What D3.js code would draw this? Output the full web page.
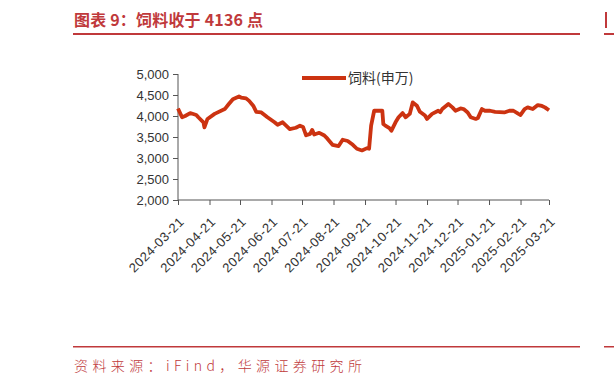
<!DOCTYPE html>
<html>
<head>
<meta charset="utf-8">
<script src="https://cdn.jsdelivr.net/npm/d3@7"></script>
<style>
  body { margin: 0; background: #fff; }
  svg { display: block; }
  .axis text { font-family: "Liberation Sans", Arial, sans-serif; fill: #333; }
  .axis path, .axis line { stroke: #555; }
</style>
</head>
<body>
<div id="chart"></div>
<script>
// 饲料(申万) index
var dates = [
  "2024-03-21","2024-03-25","2024-03-28","2024-04-02","2024-04-08","2024-04-10","2024-04-15","2024-04-16",
  "2024-04-19","2024-04-26","2024-05-06","2024-05-10","2024-05-14","2024-05-20","2024-05-22","2024-05-27",
  "2024-05-30","2024-06-03","2024-06-06","2024-06-11","2024-06-17","2024-06-24","2024-06-27","2024-07-02",
  "2024-07-09","2024-07-15","2024-07-19","2024-07-22","2024-07-25","2024-07-29","2024-07-31","2024-08-02",
  "2024-08-07","2024-08-12","2024-08-15","2024-08-20","2024-08-26","2024-08-30","2024-09-04","2024-09-09",
  "2024-09-13","2024-09-18","2024-09-23","2024-09-25","2024-09-27","2024-09-30","2024-10-08","2024-10-09",
  "2024-10-11","2024-10-15","2024-10-17","2024-10-21","2024-10-24","2024-10-28","2024-10-31","2024-11-04",
  "2024-11-07","2024-11-11","2024-11-14","2024-11-19","2024-11-21","2024-11-26","2024-12-02","2024-12-04",
  "2024-12-06","2024-12-12","2024-12-16","2024-12-19","2024-12-24","2024-12-27","2024-12-31","2025-01-03",
  "2025-01-08","2025-01-10","2025-01-14","2025-01-17","2025-01-22","2025-01-27","2025-02-05","2025-02-10",
  "2025-02-14","2025-02-19","2025-02-21","2025-02-25","2025-02-28","2025-03-05","2025-03-10","2025-03-14",
  "2025-03-17","2025-03-21"
];
var values = [
  4180,3970,4000,4070,4025,3970,3850,3730,
  3930,4050,4165,4285,4400,4465,4440,4420,
  4360,4245,4100,4085,3970,3850,3790,3850,
  3690,3720,3770,3740,3540,3575,3670,3560,
  3600,3535,3460,3315,3285,3435,3405,3315,
  3220,3180,3235,3220,3770,4125,4125,3810,
  3770,3710,3650,3850,3970,4070,3970,4050,
  4325,4245,4100,4010,3930,4050,4125,4090,
  4165,4285,4205,4125,4180,4165,4085,3970,
  3930,3950,4165,4125,4125,4100,4085,4125,
  4125,4050,4025,4165,4205,4165,4260,4240,
  4205,4136
];
var xTicks = [
  "2024-03-21","2024-04-21","2024-05-21","2024-06-21","2024-07-21","2024-08-21","2024-09-21",
  "2024-10-21","2024-11-21","2024-12-21","2025-01-21","2025-02-21","2025-03-21"
];
var yTicks = [2000,2500,3000,3500,4000,4500,5000];
var seriesName = "饲料(申万)";
var title = "图表 9：饲料收于 4136 点";
var source = "资料来源：iFind，华源证券研究所";

var W = 614, H = 386;
var red = "#c0393b";
var lineColor = "#cc3311";
var parse = d3.timeParse("%Y-%m-%d");

var svg = d3.select("#chart").append("svg")
  .attr("width", W)
  .attr("height", H);

// header and footer
svg.append("text")
  .attr("x", 74).attr("y", 26)
  .attr("textLength", 189).attr("lengthAdjust", "spacing")
  .style("font-family", "'Noto Sans CJK SC', sans-serif")
  .style("font-size", "16px").style("font-weight", "bold")
  .style("fill", red)
  .text(title);

svg.append("rect").attr("x", 73).attr("y", 33).attr("width", 507).attr("height", 2).attr("fill", red);
svg.append("rect").attr("x", 604).attr("y", 33).attr("width", 10).attr("height", 2).attr("fill", red);
svg.append("rect").attr("x", 605).attr("y", 12).attr("width", 2).attr("height", 16).attr("fill", red);

svg.append("rect").attr("x", 73).attr("y", 346).attr("width", 507).attr("height", 1.5).attr("fill", red);
svg.append("rect").attr("x", 604).attr("y", 346).attr("width", 10).attr("height", 1.5).attr("fill", red);

svg.append("text")
  .attr("x", 74).attr("y", 371)
  .attr("textLength", 288).attr("lengthAdjust", "spacing")
  .style("font-family", "'Noto Sans CJK SC', sans-serif")
  .style("font-size", "14px").style("font-weight", "300")
  .style("fill", red)
  .text(source);

// plot
var x = d3.scaleTime()
  .domain([parse(xTicks[0]), parse(xTicks[xTicks.length - 1])])
  .range([178, 549]);

var y = d3.scaleLinear()
  .domain([2000, 5000])
  .range([200, 74]);

var yAxis = svg.append("g")
  .attr("class", "axis")
  .attr("transform", "translate(178,0)")
  .call(d3.axisLeft(y)
    .tickValues(yTicks)
    .tickSize(5)
    .tickPadding(4)
    .tickFormat(d3.format(",")));
yAxis.selectAll("text").style("font-size", "13px");
yAxis.select(".domain").attr("d", "M0," + y(5000) + "V" + y(2000));

var xAxis = svg.append("g")
  .attr("class", "axis")
  .attr("transform", "translate(0,200)")
  .call(d3.axisBottom(x)
    .tickValues(xTicks.map(parse))
    .tickSize(5)
    .tickFormat(d3.timeFormat("%Y-%m-%d")));
xAxis.select(".domain").attr("d", "M178,0H549");
xAxis.selectAll("text")
  .style("font-size", "13px")
  .style("text-anchor", "end")
  .attr("textLength", 71)
  .attr("lengthAdjust", "spacing")
  .attr("dy", null)
  .attr("y", null)
  .attr("transform", "translate(6,23) rotate(-45)");

var line = d3.line()
  .x(function(d, i) { return x(parse(dates[i])); })
  .y(function(d) { return y(d); });

svg.append("path")
  .datum(values)
  .attr("d", line)
  .attr("fill", "none")
  .attr("stroke", lineColor)
  .attr("stroke-width", 3.8)
  .attr("stroke-linejoin", "round");

// legend
svg.append("line")
  .attr("x1", 302).attr("x2", 346)
  .attr("y1", 78).attr("y2", 78)
  .attr("stroke", lineColor)
  .attr("stroke-width", 4);
svg.append("text")
  .attr("x", 348).attr("y", 83)
  .style("font-family", "'Noto Sans CJK SC', sans-serif")
  .style("font-size", "14px")
  .style("fill", "#333")
  .text(seriesName);
</script>
</body>
</html>
